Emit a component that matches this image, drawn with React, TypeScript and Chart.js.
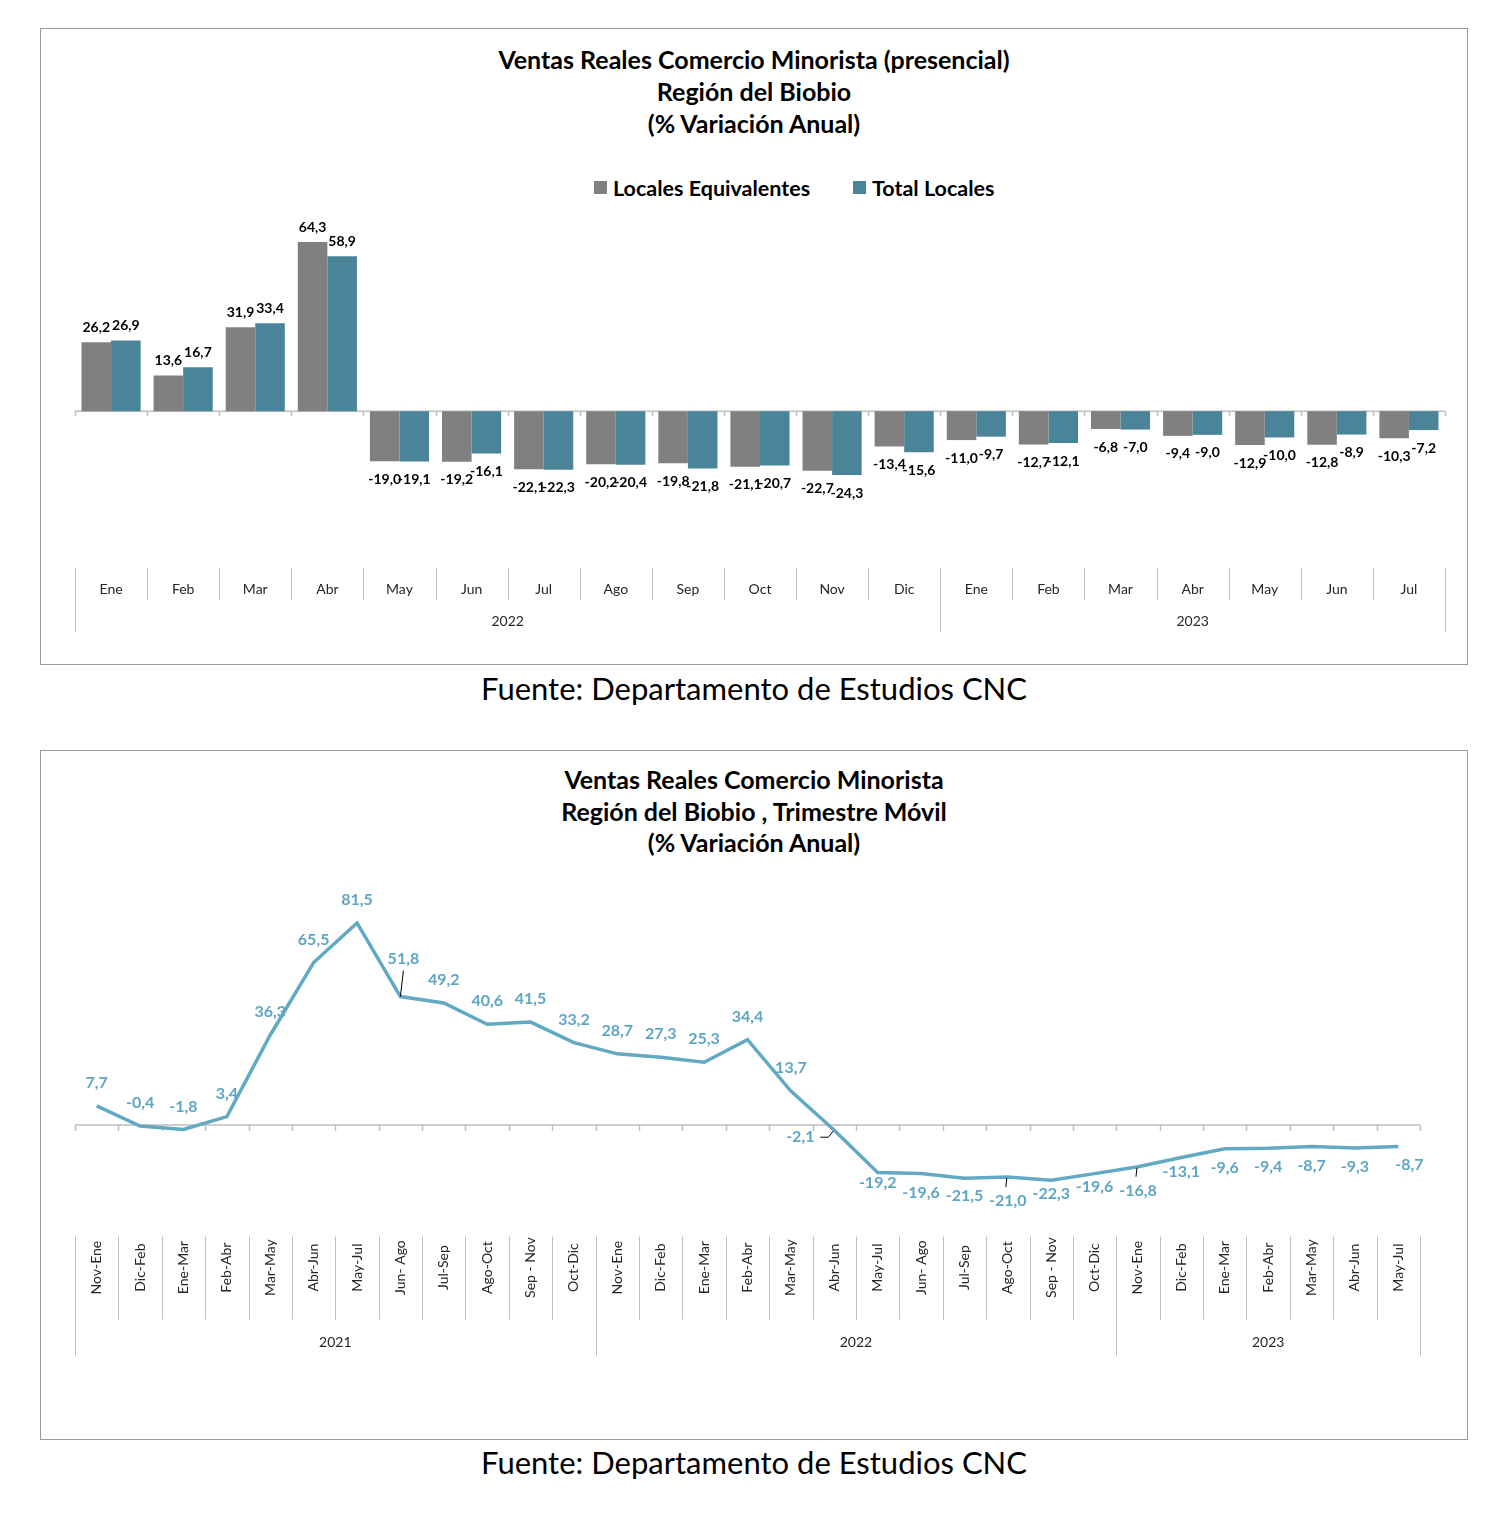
import React, { useEffect, useRef } from "react";
import { Chart, registerables } from "chart.js";
Chart.register(...registerables);

// ---------- Chart 1 data ----------
const months1 = ["Ene","Feb","Mar","Abr","May","Jun","Jul","Ago","Sep","Oct","Nov","Dic","Ene","Feb","Mar","Abr","May","Jun","Jul"];
const years1 = ["2022", "2023"];
const yearCounts1 = [12, 7];
const localesEquivalentes = [26.2,13.6,31.9,64.3,-19.0,-19.2,-22.1,-20.2,-19.8,-21.1,-22.7,-13.4,-11.0,-12.7,-6.8,-9.4,-12.9,-12.8,-10.3];
const totalLocales = [26.9,16.7,33.4,58.9,-19.1,-16.1,-22.3,-20.4,-21.8,-20.7,-24.3,-15.6,-9.7,-12.1,-7.0,-9.0,-10.0,-8.9,-7.2];

// ---------- Chart 2 data ----------
const periods2 = ["Nov-Ene","Dic-Feb","Ene-Mar","Feb-Abr","Mar-May","Abr-Jun","May-Jul","Jun- Ago","Jul-Sep","Ago-Oct","Sep - Nov","Oct-Dic",
  "Nov-Ene","Dic-Feb","Ene-Mar","Feb-Abr","Mar-May","Abr-Jun","May-Jul","Jun- Ago","Jul-Sep","Ago-Oct","Sep - Nov","Oct-Dic",
  "Nov-Ene","Dic-Feb","Ene-Mar","Feb-Abr","Mar-May","Abr-Jun","May-Jul"];
const years2 = ["2021", "2022", "2023"];
const yearCounts2 = [12, 12, 7];
const trimestreMovil = [7.7,-0.4,-1.8,3.4,36.3,65.5,81.5,51.8,49.2,40.6,41.5,33.2,28.7,27.3,25.3,34.4,13.7,-2.1,-19.2,-19.6,-21.5,-21.0,-22.3,-19.6,-16.8,-13.1,-9.6,-9.4,-8.7,-9.3,-8.7];

// label placement tweaks for the line chart (index -> [dx, dy, leader])
const labelTweaks2: Record<number, [number, number, boolean]> = {
  7: [3, -38, true],
  17: [-34, 7, true],
  18: [0, 10, false],
  20: [0, 18, false],
  21: [0, 24, true],
  22: [0, 14, false],
  23: [0, 13, false],
  24: [0, 24, true],
  25: [0, 14, false],
  30: [11, 18, false],
};

const GRAY = "#808080";
const TEAL = "#4a8499";
const LINEBLUE = "#62a9c4";
const LABELBLUE = "#5ea6c5";
const AXIS = "#bfbfbf";
const FONT = "Lato, 'Open Sans', sans-serif";

const fmt = (v: number) => v.toFixed(1).replace(".", ",");

function drawZero(chart: any, tickLen: number) {
  const { ctx, chartArea } = chart;
  const y = chart.scales.y.getPixelForValue(0);
  const n = chart.data.labels.length;
  const w = (chartArea.right - chartArea.left) / n;
  ctx.save();
  ctx.strokeStyle = AXIS;
  ctx.lineWidth = 1.5;
  ctx.beginPath();
  ctx.moveTo(chartArea.left, y);
  ctx.lineTo(chartArea.right, y);
  for (let i = 0; i <= n; i++) {
    const x = Math.round(chartArea.left + i * w) + 0.5;
    ctx.moveTo(x, y);
    ctx.lineTo(x, y + tickLen);
  }
  ctx.stroke();
  ctx.restore();
}

function drawCategoryAxis(chart: any, labels: string[], years: string[], counts: number[], cfg: any) {
  const { ctx, chartArea } = chart;
  const n = labels.length;
  const w = (chartArea.right - chartArea.left) / n;
  const b = chartArea.bottom;
  ctx.save();
  ctx.strokeStyle = AXIS;
  ctx.lineWidth = 1;
  ctx.beginPath();
  for (let i = 0; i <= n; i++) {
    const x = Math.round(chartArea.left + i * w) + 0.5;
    ctx.moveTo(x, b + cfg.sepTop);
    ctx.lineTo(x, b + cfg.sepBottom);
  }
  let acc = 0;
  const bounds = [0];
  counts.forEach((c) => { acc += c; bounds.push(acc); });
  bounds.forEach((k) => {
    const x = Math.round(chartArea.left + k * w) + 0.5;
    ctx.moveTo(x, b + cfg.sepTop);
    ctx.lineTo(x, b + cfg.yearBottom);
  });
  ctx.stroke();

  ctx.fillStyle = "#262626";
  ctx.font = `${cfg.fontSize}px ${FONT}`;
  ctx.textBaseline = "middle";
  ctx.textAlign = "center";
  labels.forEach((lab, i) => {
    const x = chartArea.left + (i + 0.5) * w;
    if (cfg.rotate) {
      ctx.save();
      ctx.translate(x, b + cfg.labelY);
      ctx.rotate(-Math.PI / 2);
      ctx.fillText(lab, 0, 0);
      ctx.restore();
    } else {
      ctx.fillText(lab, x, b + cfg.labelY);
    }
  });
  ctx.font = `${cfg.yearFontSize}px ${FONT}`;
  years.forEach((yr, k) => {
    const x = chartArea.left + ((bounds[k] + bounds[k + 1]) / 2) * w;
    ctx.fillText(yr, x, b + cfg.yearY);
  });
  ctx.restore();
}

function BarChart() {
  const ref = useRef<HTMLCanvasElement>(null);
  useEffect(() => {
    const plugin = {
      id: "custom1",
      beforeDatasetsDraw(chart: any) { drawZero(chart, 5); },
      afterDatasetsDraw(chart: any) {
        const { ctx } = chart;
        ctx.save();
        ctx.font = `bold 14px ${FONT}`;
        ctx.fillStyle = "#000";
        ctx.textAlign = "center";
        ctx.textBaseline = "middle";
        chart.data.datasets.forEach((ds: any, d: number) => {
          const meta = chart.getDatasetMeta(d);
          meta.data.forEach((el: any, i: number) => {
            const v = ds.data[i];
            const y = v >= 0 ? el.y - 15 : el.y + 18;
            ctx.fillText(fmt(v), el.x, y);
          });
        });
        ctx.restore();
        drawCategoryAxis(chart, months1, years1, yearCounts1, {
          sepTop: -1, sepBottom: 31, yearBottom: 63, labelY: 20, yearY: 52, fontSize: 14, yearFontSize: 14, rotate: false,
        });
      },
    };
    const chart = new Chart(ref.current!, {
      type: "bar",
      data: {
        labels: months1,
        datasets: [
          { label: "Locales Equivalentes", data: localesEquivalentes, backgroundColor: GRAY, borderWidth: 0 },
          { label: "Total Locales", data: totalLocales, backgroundColor: TEAL, borderWidth: 0 },
        ],
      },
      options: {
        responsive: false,
        animation: false,
        layout: { padding: { left: 34, right: 22, top: 27, bottom: 71 } },
        plugins: { legend: { display: false }, title: { display: false }, tooltip: { enabled: false } },
        datasets: { bar: { categoryPercentage: 0.82, barPercentage: 1 } },
        scales: {
          x: { display: false, offset: true },
          y: { display: false, min: -60, max: 70 },
        },
      },
      plugins: [plugin],
    });
    return () => chart.destroy();
  }, []);
  return <canvas ref={ref} width={1426} height={440} style={{ position: "absolute", left: 41, top: 200, width: 1426, height: 440 }} />;
}

function LineChart() {
  const ref = useRef<HTMLCanvasElement>(null);
  useEffect(() => {
    const plugin = {
      id: "custom2",
      beforeDatasetsDraw(chart: any) { drawZero(chart, 6); },
      afterDatasetsDraw(chart: any) {
        const { ctx } = chart;
        ctx.save();
        ctx.font = `bold 16px ${FONT}`;
        ctx.textAlign = "center";
        ctx.textBaseline = "middle";
        const meta = chart.getDatasetMeta(0);
        meta.data.forEach((el: any, i: number) => {
          const v = trimestreMovil[i];
          let dx = 0;
          let dy = v >= -2 ? -23 : 19;
          let leader = false;
          const t = labelTweaks2[i];
          if (t) { dx = t[0]; dy = t[1]; leader = t[2]; }
          const lx = el.x + dx;
          const ly = el.y + dy;
          if (leader) {
            ctx.strokeStyle = "#000";
            ctx.lineWidth = 1;
            ctx.beginPath();
            if (i === 17) {
              ctx.moveTo(lx + 20, ly);
              ctx.lineTo(lx + 28, ly);
              ctx.lineTo(el.x - 1, el.y + 1);
            } else if (dy < 0) {
              ctx.moveTo(el.x, el.y);
              ctx.lineTo(lx, ly + 12);
            } else {
              ctx.moveTo(el.x - 1, el.y + 1);
              ctx.lineTo(lx - 2, ly - 14);
            }
            ctx.stroke();
          }
          ctx.fillStyle = LABELBLUE;
          ctx.fillText(fmt(v), lx, ly);
        });
        ctx.restore();
        drawCategoryAxis(chart, periods2, years2, yearCounts2, {
          sepTop: 0, sepBottom: 83, yearBottom: 119, labelY: 31, yearY: 106, fontSize: 14, yearFontSize: 14, rotate: true,
        });
      },
    };
    const chart = new Chart(ref.current!, {
      type: "line",
      data: {
        labels: periods2,
        datasets: [
          { label: "Trimestre Móvil", data: trimestreMovil, borderColor: LINEBLUE, borderWidth: 3.5, pointRadius: 0, tension: 0, fill: false },
        ],
      },
      options: {
        responsive: false,
        animation: false,
        layout: { padding: { left: 34, right: 47, top: 17, bottom: 183.4 } },
        plugins: { legend: { display: false }, title: { display: false }, tooltip: { enabled: false } },
        scales: {
          x: { display: false, offset: true },
          y: { display: false, min: -45, max: 100 },
        },
      },
      plugins: [plugin],
    });
    return () => chart.destroy();
  }, []);
  return <canvas ref={ref} width={1426} height={560} style={{ position: "absolute", left: 41, top: 860, width: 1426, height: 560 }} />;
}

const boxStyle = (top: number, height: number): React.CSSProperties => ({
  position: "absolute", left: 40, top, width: 1428, height, border: "1px solid #999", boxSizing: "border-box",
});

const titleStyle = (top: number, lh: number): React.CSSProperties => ({
  position: "absolute", left: 40, top, width: 1428, textAlign: "center", fontFamily: FONT, fontWeight: 700,
  fontSize: 25, lineHeight: `${lh}px`, color: "#000",
});

const fuenteStyle = (top: number): React.CSSProperties => ({
  position: "absolute", left: 0, top, width: 1508, textAlign: "center", fontFamily: FONT, fontSize: 31, lineHeight: "36px", color: "#000",
});

const legendText: React.CSSProperties = {
  position: "absolute", top: 176, fontFamily: FONT, fontWeight: 700, fontSize: 21.5, lineHeight: "24px",
};

export default function App() {
  return (
    <div style={{ position: "absolute", left: 0, top: 0, width: 1496, height: 1520, background: "#fff" }}>
      <div style={boxStyle(28, 637)} />
      <div style={titleStyle(43, 32)}>
        <div>Ventas Reales Comercio Minorista (presencial)</div>
        <div>Región del Biobio</div>
        <div>(% Variación Anual)</div>
      </div>
      <div style={{ position: "absolute", left: 594, top: 181, width: 13, height: 13, background: GRAY }} />
      <div style={{ ...legendText, left: 613 }}>Locales Equivalentes</div>
      <div style={{ position: "absolute", left: 853, top: 181, width: 13, height: 13, background: TEAL }} />
      <div style={{ ...legendText, left: 872 }}>Total Locales</div>
      <BarChart />
      <div style={fuenteStyle(670)}>Fuente: Departamento de Estudios CNC</div>

      <div style={boxStyle(750, 690)} />
      <div style={titleStyle(764, 31.5)}>
        <div>Ventas Reales Comercio Minorista</div>
        <div>Región del Biobio , Trimestre Móvil</div>
        <div>(% Variación Anual)</div>
      </div>
      <LineChart />
      <div style={fuenteStyle(1444)}>Fuente: Departamento de Estudios CNC</div>
    </div>
  );
}
